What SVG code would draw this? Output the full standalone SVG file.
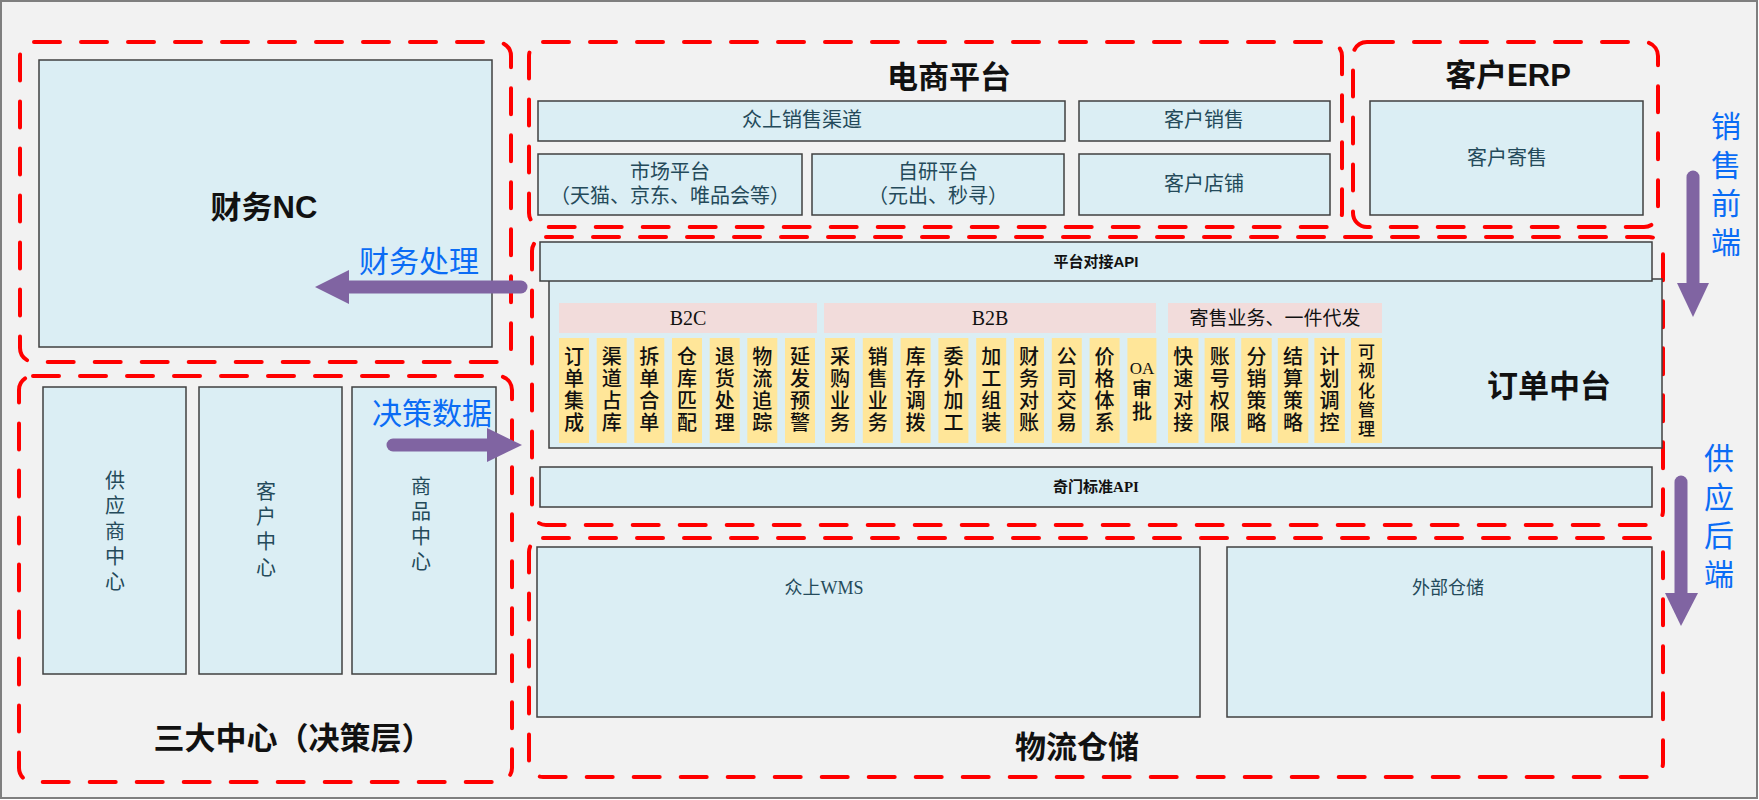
<svg xmlns="http://www.w3.org/2000/svg" width="1759" height="800" viewBox="0 0 1759 800">
<style>
.bg{fill:#f2f2f2;stroke:#7f7f7f;stroke-width:2}
.zone{fill:none;stroke:#ff0000;stroke-width:4;stroke-dasharray:26 21;stroke-linecap:round}
.box{fill:#dbeef4;stroke:#404040;stroke-width:1.5}
.hdr{fill:#f2dcdb}
.col{fill:#ffe699}
.t{font-family:"Liberation Serif","Noto Sans CJK SC",serif;font-size:20px;fill:#244a5a;text-anchor:middle;dominant-baseline:central}
.ct{font-family:"Liberation Serif","Noto Sans CJK SC",serif;font-size:20px;font-weight:500;fill:#111;text-anchor:middle;dominant-baseline:central}
.title{font-family:"Liberation Sans","Noto Sans CJK SC",sans-serif;font-size:31px;font-weight:bold;fill:#111;text-anchor:middle;dominant-baseline:central}
.api{font-family:"Liberation Sans","Noto Sans CJK SC",sans-serif;font-size:15px;font-weight:bold;fill:#111;text-anchor:middle;dominant-baseline:central}
.lbl{font-family:"Noto Sans CJK SC",sans-serif;font-size:30px;fill:#0a6cf5;text-anchor:middle;dominant-baseline:central}
.vlbl{font-family:"Noto Sans CJK SC",sans-serif;font-size:30px;fill:#0a6cf5;writing-mode:tb;letter-spacing:8.5px}
.shaft{stroke:#8064a2;stroke-width:13;stroke-linecap:round;fill:none}
.head{fill:#8064a2}
</style>
<rect class="bg" x="1" y="1" width="1756" height="797"/>

<g id="zones">
<rect class="zone" x="20" y="42" width="491" height="320" rx="14"/>
<rect class="zone" x="19" y="376" width="493" height="406" rx="14"/>
<rect class="zone" x="529" y="42" width="813" height="185" rx="14"/>
<rect class="zone" x="1353" y="42" width="305" height="185" rx="14"/>
<rect class="zone" x="532" y="237" width="1131" height="288" rx="14"/>
<rect class="zone" x="529" y="538" width="1134" height="239" rx="14"/>
</g>

<g id="finance-nc">
<rect class="box" x="39" y="60" width="453" height="287"/>
<text class="title" x="264" y="207">财务NC</text>
</g>

<g id="supplier-center">
<rect class="box" x="43" y="387" width="143" height="287"/>
<text class="t" x="115"><tspan x="115" y="481">供</tspan><tspan x="115" y="506">应</tspan><tspan x="115" y="532">商</tspan><tspan x="115" y="557">中</tspan><tspan x="115" y="582">心</tspan></text>
</g>
<g id="customer-center">
<rect class="box" x="199" y="387" width="143" height="287"/>
<text class="t" x="266"><tspan x="266" y="492">客</tspan><tspan x="266" y="517">户</tspan><tspan x="266" y="542">中</tspan><tspan x="266" y="568">心</tspan></text>
</g>
<g id="product-center">
<rect class="box" x="352" y="387" width="144" height="287"/>
<text class="t" x="421"><tspan x="421" y="487">商</tspan><tspan x="421" y="512">品</tspan><tspan x="421" y="537">中</tspan><tspan x="421" y="562">心</tspan></text>
</g>
<g id="three-centers-title">
<text class="title" x="293" y="738">三大中心（决策层）</text>
</g>

<g id="ecommerce-platform">
<text class="title" x="949" y="77">电商平台</text>
</g>
<g id="zs-sales-channel">
<rect class="box" x="538" y="101" width="527" height="40"/>
<text class="t" x="802" y="120">众上销售渠道</text>
</g>
<g id="customer-sales">
<rect class="box" x="1079" y="101" width="251" height="40"/>
<text class="t" x="1204" y="120">客户销售</text>
</g>
<g id="market-platform">
<rect class="box" x="538" y="154" width="264" height="61"/>
<text class="t" x="670" y="172">市场平台</text>
<text class="t" x="670" y="196">（天猫、京东、唯品会等）</text>
</g>
<g id="self-platform">
<rect class="box" x="812" y="154" width="252" height="61"/>
<text class="t" x="938" y="172">自研平台</text>
<text class="t" x="938" y="196">（元出、秒寻）</text>
</g>
<g id="customer-store">
<rect class="box" x="1079" y="154" width="251" height="61"/>
<text class="t" x="1204" y="184">客户店铺</text>
</g>

<g id="customer-erp">
<text class="title" x="1508" y="75">客户ERP</text>
<rect class="box" x="1370" y="101" width="273" height="114"/>
<text class="t" x="1507" y="158">客户寄售</text>
</g>

<g id="order-center">
<rect class="box" x="549" y="279" width="1113" height="169"/>
<text class="title" x="1549" y="386">订单中台</text>
<rect class="hdr" x="559" y="303" width="258" height="30"/>
<text class="t" x="688" y="318" style="fill:#111">B2C</text>
<rect class="hdr" x="824" y="303" width="332" height="30"/>
<text class="t" x="990" y="318" style="fill:#111">B2B</text>
<rect class="hdr" x="1168" y="303" width="214" height="30"/>
<text class="t" x="1275" y="318" style="fill:#111;font-size:19px">寄售业务、一件代发</text>
<g id="b2c-cols">
<rect class="col" x="559" y="338" width="30" height="105"/>
<text class="ct"><tspan x="574" y="357">订</tspan><tspan x="574" y="379">单</tspan><tspan x="574" y="401">集</tspan><tspan x="574" y="423">成</tspan></text>
<rect class="col" x="596.7" y="338" width="30" height="105"/>
<text class="ct"><tspan x="611.7" y="357">渠</tspan><tspan x="611.7" y="379">道</tspan><tspan x="611.7" y="401">占</tspan><tspan x="611.7" y="423">库</tspan></text>
<rect class="col" x="634.3" y="338" width="30" height="105"/>
<text class="ct"><tspan x="649.3" y="357">拆</tspan><tspan x="649.3" y="379">单</tspan><tspan x="649.3" y="401">合</tspan><tspan x="649.3" y="423">单</tspan></text>
<rect class="col" x="672" y="338" width="30" height="105"/>
<text class="ct"><tspan x="687" y="357">仓</tspan><tspan x="687" y="379">库</tspan><tspan x="687" y="401">匹</tspan><tspan x="687" y="423">配</tspan></text>
<rect class="col" x="709.7" y="338" width="30" height="105"/>
<text class="ct"><tspan x="724.7" y="357">退</tspan><tspan x="724.7" y="379">货</tspan><tspan x="724.7" y="401">处</tspan><tspan x="724.7" y="423">理</tspan></text>
<rect class="col" x="747.3" y="338" width="30" height="105"/>
<text class="ct"><tspan x="762.3" y="357">物</tspan><tspan x="762.3" y="379">流</tspan><tspan x="762.3" y="401">追</tspan><tspan x="762.3" y="423">踪</tspan></text>
<rect class="col" x="785" y="338" width="30" height="105"/>
<text class="ct"><tspan x="800" y="357">延</tspan><tspan x="800" y="379">发</tspan><tspan x="800" y="401">预</tspan><tspan x="800" y="423">警</tspan></text>
</g>
<g id="b2b-cols">
<rect class="col" x="825" y="338" width="30" height="105"/>
<text class="ct"><tspan x="840" y="357">采</tspan><tspan x="840" y="379">购</tspan><tspan x="840" y="401">业</tspan><tspan x="840" y="423">务</tspan></text>
<rect class="col" x="862.8" y="338" width="30" height="105"/>
<text class="ct"><tspan x="877.8" y="357">销</tspan><tspan x="877.8" y="379">售</tspan><tspan x="877.8" y="401">业</tspan><tspan x="877.8" y="423">务</tspan></text>
<rect class="col" x="900.6" y="338" width="30" height="105"/>
<text class="ct"><tspan x="915.6" y="357">库</tspan><tspan x="915.6" y="379">存</tspan><tspan x="915.6" y="401">调</tspan><tspan x="915.6" y="423">拨</tspan></text>
<rect class="col" x="938.4" y="338" width="30" height="105"/>
<text class="ct"><tspan x="953.4" y="357">委</tspan><tspan x="953.4" y="379">外</tspan><tspan x="953.4" y="401">加</tspan><tspan x="953.4" y="423">工</tspan></text>
<rect class="col" x="976.2" y="338" width="30" height="105"/>
<text class="ct"><tspan x="991.2" y="357">加</tspan><tspan x="991.2" y="379">工</tspan><tspan x="991.2" y="401">组</tspan><tspan x="991.2" y="423">装</tspan></text>
<rect class="col" x="1014" y="338" width="30" height="105"/>
<text class="ct"><tspan x="1029" y="357">财</tspan><tspan x="1029" y="379">务</tspan><tspan x="1029" y="401">对</tspan><tspan x="1029" y="423">账</tspan></text>
<rect class="col" x="1051.8" y="338" width="30" height="105"/>
<text class="ct"><tspan x="1066.8" y="357">公</tspan><tspan x="1066.8" y="379">司</tspan><tspan x="1066.8" y="401">交</tspan><tspan x="1066.8" y="423">易</tspan></text>
<rect class="col" x="1089.6" y="338" width="30" height="105"/>
<text class="ct"><tspan x="1104.6" y="357">价</tspan><tspan x="1104.6" y="379">格</tspan><tspan x="1104.6" y="401">体</tspan><tspan x="1104.6" y="423">系</tspan></text>
<rect class="col" x="1127.4" y="338" width="29" height="105"/>
<text class="ct"><tspan x="1142" y="368" style="font-size:17px">OA</tspan><tspan x="1142" y="390">审</tspan><tspan x="1142" y="412">批</tspan></text>
</g>
<g id="consign-cols">
<rect class="col" x="1168" y="338" width="30.5" height="105"/>
<text class="ct"><tspan x="1183.2" y="357">快</tspan><tspan x="1183.2" y="379">速</tspan><tspan x="1183.2" y="401">对</tspan><tspan x="1183.2" y="423">接</tspan></text>
<rect class="col" x="1204.6" y="338" width="30.5" height="105"/>
<text class="ct"><tspan x="1219.8" y="357">账</tspan><tspan x="1219.8" y="379">号</tspan><tspan x="1219.8" y="401">权</tspan><tspan x="1219.8" y="423">限</tspan></text>
<rect class="col" x="1241.2" y="338" width="30.5" height="105"/>
<text class="ct"><tspan x="1256.4" y="357">分</tspan><tspan x="1256.4" y="379">销</tspan><tspan x="1256.4" y="401">策</tspan><tspan x="1256.4" y="423">略</tspan></text>
<rect class="col" x="1277.8" y="338" width="30.5" height="105"/>
<text class="ct"><tspan x="1293" y="357">结</tspan><tspan x="1293" y="379">算</tspan><tspan x="1293" y="401">策</tspan><tspan x="1293" y="423">略</tspan></text>
<rect class="col" x="1314.4" y="338" width="30.5" height="105"/>
<text class="ct"><tspan x="1329.6" y="357">计</tspan><tspan x="1329.6" y="379">划</tspan><tspan x="1329.6" y="401">调</tspan><tspan x="1329.6" y="423">控</tspan></text>
<rect class="col" x="1351" y="338" width="31" height="105"/>
<text class="ct" style="font-size:17px"><tspan x="1366.5" y="352">可</tspan><tspan x="1366.5" y="371">视</tspan><tspan x="1366.5" y="391">化</tspan><tspan x="1366.5" y="410">管</tspan><tspan x="1366.5" y="429">理</tspan></text>
</g>
</g>

<g id="platform-api">
<rect class="box" x="540" y="242" width="1112" height="39"/>
<text class="api" x="1096" y="261">平台对接API</text>
</g>
<g id="qimen-api">
<rect class="box" x="540" y="467" width="1112" height="40"/>
<text class="api" x="1096" y="487" style="font-family:'Liberation Serif','Noto Sans CJK SC',serif">奇门标准API</text>
</g>

<g id="zs-wms">
<rect class="box" x="537" y="547" width="663" height="170"/>
<text class="t" x="824" y="588" style="font-size:18px">众上WMS</text>
</g>
<g id="external-storage">
<rect class="box" x="1227" y="547" width="425" height="170"/>
<text class="t" x="1448" y="588" style="font-size:18px">外部仓储</text>
</g>
<g id="logistics-title">
<text class="title" x="1077" y="747">物流仓储</text>
</g>

<g id="connectors">
<line class="shaft" x1="521" y1="287" x2="346" y2="287"/>
<polygon class="head" points="349,270 315,287 349,304"/>
<text class="lbl" x="419" y="259">财务处理</text>

<line class="shaft" x1="393" y1="445" x2="489" y2="445"/>
<polygon class="head" points="487,428 522,445 487,462"/>
<text class="lbl" x="432" y="411">决策数据</text>

<line class="shaft" x1="1693" y1="177" x2="1693" y2="285"/>
<polygon class="head" points="1677,283 1693,317 1709,283"/>
<text class="vlbl" x="1726" y="111">销售前端</text>

<line class="shaft" x1="1681" y1="482" x2="1681" y2="595"/>
<polygon class="head" points="1665,593 1681,626 1698,593"/>
<text class="vlbl" x="1719" y="443">供应后端</text>
</g>
</svg>
